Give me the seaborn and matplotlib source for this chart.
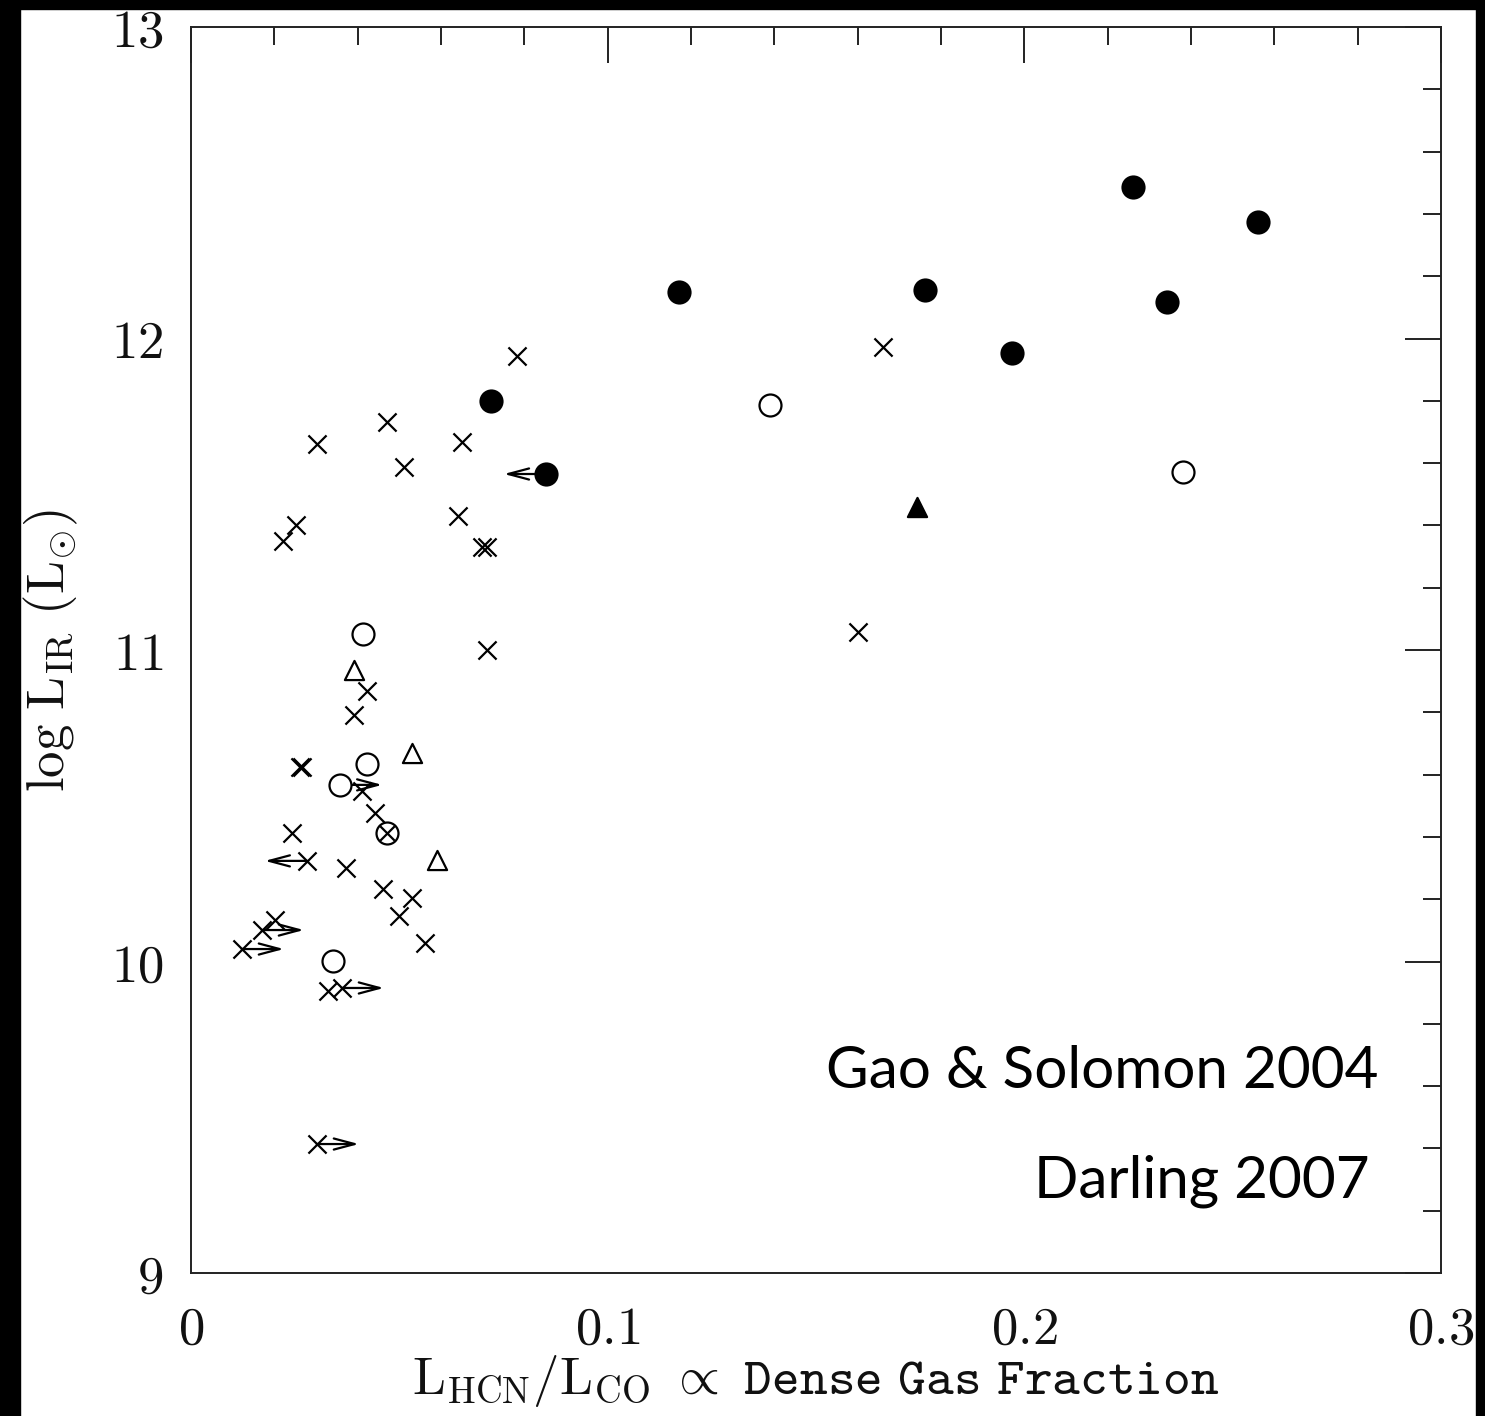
import matplotlib
matplotlib.use("Agg")
import matplotlib.pyplot as plt
import matplotlib.ticker as mticker
from matplotlib.patches import Rectangle
import seaborn as sns
import pandas as pd

# ---------------- data ----------------
filled_circle_x = [0.1171, 0.0720, 0.0852, 0.1762, 0.2261, 0.2561, 0.2342, 0.1970]
filled_circle_y = [12.149, 11.799, 11.565, 12.156, 12.486, 12.374, 12.117, 11.953]

open_circle_x = [0.1390, 0.2381, 0.0413, 0.0422, 0.0358, 0.0470, 0.0341]
open_circle_y = [11.787, 11.571, 11.051, 10.634, 10.567, 10.413, 10.002]

filled_tri_x = [0.1742]
filled_tri_y = [11.459]

open_tri_x = [0.0391, 0.0530, 0.0590]
open_tri_y = [10.936, 10.669, 10.326]

cross_x = [0.0782, 0.0470, 0.0302, 0.0650, 0.0511, 0.0641, 0.0252, 0.0221,
           0.0698, 0.0710, 0.0710, 0.1661, 0.1601, 0.0422, 0.0391, 0.0262,
           0.0266, 0.0410, 0.0442, 0.0470, 0.0242, 0.0278, 0.0372, 0.0461,
           0.0530, 0.0499, 0.0562, 0.0202, 0.0170, 0.0122, 0.0329, 0.0362,
           0.0302]
cross_y = [11.944, 11.732, 11.661, 11.668, 11.587, 11.430, 11.401, 11.350,
           11.331, 11.331, 11.000, 11.973, 11.058, 10.868, 10.791, 10.624,
           10.624, 10.547, 10.477, 10.413, 10.413, 10.323, 10.300, 10.233,
           10.204, 10.146, 10.059, 10.133, 10.101, 10.040, 9.905, 9.915,
           9.414]
# 1 = cross drawn inside a circle (the "⊗" point)
cross_inner = [0]*19 + [1] + [0]*13

# limit arrows: start point and direction (-1 left, +1 right)
arrow_x = [0.0852, 0.0358, 0.0278, 0.0170, 0.0122, 0.0362, 0.0302]
arrow_y = [11.565, 10.567, 10.323, 10.101, 10.040, 9.915, 9.414]
arrow_dir = [-1, 1, -1, 1, 1, 1, 1]
arrow_len = 0.0101

x_ticks = [0, 0.1, 0.2, 0.3]
x_tick_labels = ["0", "0.1", "0.2", "0.3"]
y_ticks = [9, 10, 11, 12, 13]
y_tick_labels = ["9", "10", "11", "12", "13"]

x_label = r"$\mathrm{L_{HCN}/L_{CO}}\ \propto\ \mathtt{Dense\ Gas\ Fraction}$"
y_label = r"$\mathrm{log\ L_{IR}\ (L_{\odot})}$"
notes = ["Gao & Solomon 2004", "Darling 2007"]

# ---------------- figure ----------------
sns.set_theme(style="white")
plt.rcParams["mathtext.fontset"] = "cm"
plt.rcParams["font.family"] = ["DejaVu Serif"]

W, H = 1485, 1416
fig = plt.figure(figsize=(W / 100, H / 100), dpi=100, facecolor="white")
ax = fig.add_axes([191 / W, 1 - 1273 / H, (1441 - 191) / W, (1273 - 27) / H])
ax.set_facecolor("white")

lw = 1.6
sns.scatterplot(x=filled_circle_x, y=filled_circle_y, marker="o", s=250,
                color="black", edgecolor="black", linewidth=lw, ax=ax, zorder=3)
sns.scatterplot(x=open_circle_x, y=open_circle_y, marker="o", s=250,
                facecolor="white", edgecolor="black", linewidth=lw, ax=ax, zorder=3)
sns.scatterplot(x=filled_tri_x, y=filled_tri_y, marker="^", s=190,
                color="black", edgecolor="black", linewidth=lw, ax=ax, zorder=3)
sns.scatterplot(x=open_tri_x, y=open_tri_y, marker="^", s=190,
                facecolor="white", edgecolor="black", linewidth=lw, ax=ax, zorder=3)

cross_df = pd.DataFrame({"x": cross_x, "y": cross_y, "inner": cross_inner})
outer = cross_df[cross_df.inner == 0]
inner = cross_df[cross_df.inner == 1]
sns.scatterplot(data=outer, x="x", y="y", marker="x", s=170,
                color="black", linewidth=lw, ax=ax, zorder=4)
sns.scatterplot(data=inner, x="x", y="y", marker="x", s=110,
                color="black", linewidth=lw, ax=ax, zorder=4)

for x0, y0, d in zip(arrow_x, arrow_y, arrow_dir):
    ax.annotate("", xy=(x0 + d * arrow_len, y0), xytext=(x0, y0),
                arrowprops=dict(arrowstyle="->,head_length=1.5,head_width=0.4",
                                color="black", lw=1.6, shrinkA=0, shrinkB=0,
                                mutation_scale=10), zorder=2)

ax.set_xlim(0, 0.3)
ax.set_ylim(9, 13)
ax.set_xticks(x_ticks)
ax.set_xticklabels([f"${t}$" for t in x_tick_labels])
ax.set_yticks(y_ticks)
ax.set_yticklabels([f"${t}$" for t in y_tick_labels])
ax.xaxis.set_minor_locator(mticker.MultipleLocator(0.02))
ax.yaxis.set_minor_locator(mticker.MultipleLocator(0.2))
ax.tick_params(which="both", direction="in", top=True, right=True,
               color="#222222", width=1.4, labelsize=38, labelcolor="#111111")
ax.tick_params(which="major", length=26, pad=20)
ax.tick_params(which="minor", length=13)
ax.tick_params(axis="x", which="major", pad=22)
for sp in ax.spines.values():
    sp.set_color("#222222")
    sp.set_linewidth(1.4)

ax.set_xlabel(x_label, fontsize=38, color="#111111", labelpad=-1)
ax.set_ylabel(y_label, fontsize=38, color="#111111", labelpad=22)

# annotation texts placed in figure pixel fractions (right-aligned)
fig.text(1378 / W, 1 - 1088 / H, notes[0], ha="right", va="baseline",
         fontsize=42, family=["Lato", "DejaVu Sans"], color="black")
fig.text(1370 / W, 1 - 1198 / H, notes[1], ha="right", va="baseline",
         fontsize=42, family=["Lato", "DejaVu Sans"], color="black")

# black frame strips of the original slide
for (x0, y0, w, h) in [(0, 0, 20, H), (0, 0, W, 9), (1476, 0, W - 1476, H)]:
    fig.patches.append(Rectangle((x0 / W, 1 - (y0 + h) / H), w / W, h / H,
                                 transform=fig.transFigure, color="black",
                                 zorder=10))

fig.savefig("out.png", dpi=100, facecolor="white")
